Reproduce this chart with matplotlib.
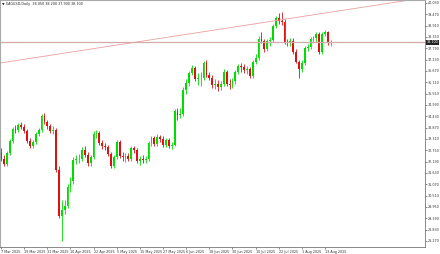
import matplotlib.pyplot as plt
from matplotlib.transforms import blended_transform_factory

# XAGUSD daily, 7 Mar 2025 .. 15 Aug 2025
symbol = "XAGUSD,Daily"
opens = [32.65, 32.30, 32.05, 32.60, 33.20, 33.80, 33.75, 34.00, 33.90, 33.70,
         33.20, 32.95, 33.15, 33.55, 33.75, 34.45, 34.15, 33.95, 33.70, 33.75,
         31.80, 29.50, 29.80, 30.00, 30.95, 31.25, 32.25, 32.30, 32.30, 32.75,
         32.50, 32.10, 32.40, 33.55, 33.60, 33.10, 32.95, 32.90, 32.55, 31.95,
         32.40, 33.15, 32.45, 32.40, 32.45, 32.30, 32.85, 32.75, 32.20, 32.30,
         32.25, 32.30, 33.10, 33.35, 33.05, 33.40, 33.30, 33.00, 33.25, 32.95,
         33.00, 34.70, 34.50, 34.55, 35.75, 36.10, 36.55, 36.80, 36.25, 36.30,
         36.30, 37.05, 36.45, 36.30, 36.00, 36.05, 35.90, 36.05, 36.60, 36.05,
         36.00, 36.15, 36.60, 36.90, 36.85, 36.70, 36.75, 36.40, 37.10, 37.30,
         38.25, 38.15, 37.75, 38.15, 38.20, 38.90, 39.30, 39.15, 39.10, 38.10,
         38.05, 38.15, 37.60, 37.10, 36.75, 37.05, 37.80, 37.85, 38.25, 38.30,
         38.50, 37.60, 38.50, 38.60, 38.05]
highs = [32.85, 32.50, 32.70, 33.30, 33.90, 34.00, 34.10, 34.15, 34.05, 33.80,
         33.35, 33.25, 33.65, 33.85, 34.55, 34.60, 34.25, 34.05, 33.95, 33.85,
         31.95, 30.30, 30.30, 31.10, 31.45, 32.40, 32.50, 32.55, 32.90, 32.95,
         32.65, 32.50, 33.70, 33.75, 33.70, 33.25, 33.10, 33.00, 32.65, 32.50,
         33.25, 33.25, 32.65, 32.60, 32.60, 32.95, 32.95, 32.85, 32.45, 32.50,
         32.45, 33.20, 33.45, 33.45, 33.55, 33.50, 33.45, 33.35, 33.35, 33.15,
         34.80, 34.85, 34.85, 35.90, 36.25, 36.65, 36.95, 36.90, 36.55, 36.60,
         37.15, 37.20, 36.60, 36.45, 36.25, 36.20, 36.15, 36.75, 36.70, 36.25,
         36.30, 36.70, 37.00, 37.05, 37.00, 36.90, 36.85, 37.20, 37.50, 38.40,
         38.60, 38.25, 38.25, 38.35, 39.00, 39.40, 39.55, 39.60, 39.25, 38.25,
         38.30, 38.30, 37.75, 37.20, 37.20, 37.90, 38.00, 38.35, 38.40, 38.60,
         38.60, 38.60, 38.70, 38.65, 38.20]
lows = [32.20, 31.95, 31.95, 32.50, 33.10, 33.60, 33.65, 33.80, 33.60, 33.10,
        32.85, 32.85, 33.05, 33.45, 33.65, 34.05, 33.80, 33.60, 33.55, 31.70,
        29.40, 28.25, 29.60, 29.90, 30.70, 31.10, 32.05, 32.10, 32.20, 32.40,
        31.95, 31.95, 32.30, 33.35, 33.00, 32.80, 32.75, 32.45, 31.85, 31.85,
        32.30, 32.35, 32.20, 32.15, 32.20, 32.20, 32.60, 32.10, 32.00, 32.10,
        32.10, 32.20, 32.95, 32.95, 32.95, 33.15, 32.90, 32.90, 32.85, 32.80,
        32.95, 34.25, 34.35, 34.45, 35.55, 35.95, 36.45, 36.15, 36.00, 35.95,
        36.20, 36.35, 36.20, 35.85, 35.80, 35.70, 35.75, 35.95, 35.95, 35.80,
        35.85, 36.05, 36.50, 36.60, 36.55, 36.50, 36.30, 36.30, 37.00, 37.20,
        38.05, 37.60, 37.65, 37.90, 38.10, 38.80, 39.00, 38.95, 38.00, 37.90,
        37.90, 37.50, 37.05, 36.30, 36.60, 36.95, 37.65, 37.75, 38.10, 38.10,
        37.50, 37.50, 38.40, 37.95, 37.90]
closes = [32.30, 32.05, 32.60, 33.20, 33.80, 33.75, 34.00, 33.90, 33.70, 33.20,
          32.95, 33.15, 33.55, 33.75, 34.45, 34.15, 33.95, 33.70, 33.75, 31.80,
          29.50, 29.80, 30.00, 30.95, 31.25, 32.25, 32.30, 32.30, 32.75, 32.50,
          32.10, 32.40, 33.55, 33.60, 33.10, 32.95, 32.90, 32.55, 31.95, 32.40,
          33.15, 32.45, 32.40, 32.45, 32.30, 32.85, 32.75, 32.20, 32.30, 32.25,
          32.30, 33.10, 33.35, 33.05, 33.40, 33.30, 33.00, 33.25, 32.95, 33.00,
          34.70, 34.50, 34.55, 35.75, 36.10, 36.55, 36.80, 36.25, 36.30, 36.30,
          37.05, 36.45, 36.30, 36.00, 36.05, 35.90, 36.05, 36.60, 36.05, 36.00,
          36.15, 36.60, 36.90, 36.85, 36.70, 36.75, 36.40, 37.10, 37.30, 38.25,
          38.15, 37.75, 38.15, 38.20, 38.90, 39.30, 39.15, 39.10, 38.10, 38.05,
          38.15, 37.60, 37.10, 36.75, 37.05, 37.80, 37.85, 38.25, 38.30, 38.50,
          37.60, 38.50, 38.60, 38.05, 38.10]

date_labels = ["7 Mar 2025", "19 Mar 2025", "31 Mar 2025", "10 Apr 2025",
               "22 Apr 2025", "5 May 2025", "15 May 2025", "27 May 2025",
               "6 Jun 2025", "18 Jun 2025", "30 Jun 2025", "10 Jul 2025",
               "22 Jul 2025", "1 Aug 2025", "13 Aug 2025"]
label_every = 8

price_ticks = [28.270, 28.830, 29.390, 29.950, 30.510, 31.070, 31.630, 32.190,
               32.750, 33.310, 33.870, 34.430, 34.990, 35.550, 36.110, 36.670,
               37.230, 37.790, 38.350, 38.910, 39.470, 40.030]

# trend line anchors (bar index, price)
trend_a = (0, 37.07)
trend_b = (100, 39.27)

bull = '#00dd00'
bear = '#e01010'

fig = plt.figure(figsize=(4.4, 2.54), dpi=100)
ax = fig.add_axes([0.0, 0.028, 0.966, 0.972])

for i, (o, h, l, c) in enumerate(zip(opens, highs, lows, closes)):
    col = bull if c >= o else bear
    ax.vlines(i, l, h, color=col, linewidth=0.6)
    ax.bar(i, max(abs(c - o), 0.03), bottom=min(o, c), width=0.62,
           color=col, linewidth=0)

ax.axline(trend_a, trend_b, color='#eaa0a0', linewidth=0.6)
last = closes[-1]
ax.axhline(last, color='#d6aaaa', linewidth=0.9)

ax.set_xlim(-0.35, 146.56)
ax.set_ylim(27.975, 40.178)

ax.yaxis.tick_right()
ax.set_yticks(price_ticks)
ax.set_yticklabels([f"{p:.3f}" for p in price_ticks])
ax.set_xticks(range(0, label_every * len(date_labels), label_every))
ax.set_xticklabels(date_labels, ha='left')
ax.tick_params(labelsize=2.4, length=1.5, width=0.4, pad=0.6, colors='#333333')

for side in ['left', 'top']:
    ax.spines[side].set_color('#aaaaaa')
    ax.spines[side].set_linewidth(0.8)
for side in ['right', 'bottom']:
    ax.spines[side].set_color('#777777')
    ax.spines[side].set_linewidth(0.6)

tr = blended_transform_factory(ax.transAxes, ax.transData)
ax.text(1.004, last, f"{last:.3f}", transform=tr, fontsize=2.4, color='white',
        va='center', ha='left',
        bbox=dict(boxstyle='square,pad=0.15', fc='#222222', ec='none'))

header = f"\u25bc {symbol}  {opens[-1]:.3f} {highs[-1]:.3f} {lows[-1]:.3f} {closes[-1]:.3f}"
ax.text(0.005, 0.992, header, transform=ax.transAxes, fontsize=2.4,
        color='#222222', va='top', ha='left')

fig.savefig('out.png', dpi=100)
